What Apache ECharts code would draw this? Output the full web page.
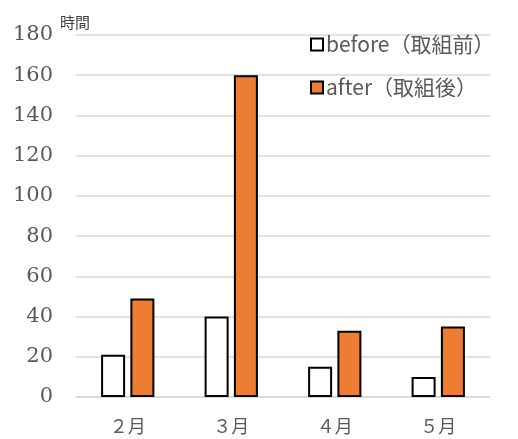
<!DOCTYPE html>
<html>
<head>
<meta charset="utf-8">
<script src="https://cdn.jsdelivr.net/npm/echarts@6/dist/echarts.min.js"></script>
<style>
  html, body { margin: 0; padding: 0; background: #fff; }
  #chart { width: 518px; height: 439px; }
</style>
</head>
<body>
<div id="chart"></div>
<script>
const months = ['２月', '３月', '４月', '５月']
const beforeHours = [21, 40, 15, 10]
const afterHours = [49, 160, 33, 35]

const chart = echarts.init(document.getElementById('chart'))

chart.setOption({
  animation: false,
  backgroundColor: '#fff',
  title: {
    text: '時間',
    left: 55,
    top: 10,
    textStyle: { color: '#404040', fontSize: 15, fontWeight: 'normal', fontFamily: 'Noto Sans CJK JP' }
  },
  legend: {
    orient: 'vertical',
    left: 305,
    top: 29,
    itemWidth: 12,
    itemHeight: 12,
    itemGap: 22,
    icon: 'rect',
    textStyle: { color: '#595959', fontSize: 21, fontFamily: 'Noto Sans CJK JP', padding: [0, 0, 0, -2] },
    data: ['before（取組前）', 'after（取組後）']
  },
  grid: { left: 76, right: 28, top: 35, bottom: 42 },
  xAxis: {
    type: 'category',
    data: months,
    axisLine: { show: true, lineStyle: { color: '#d9d9d9', width: 1.5 } },
    axisTick: { show: false },
    axisLabel: { color: '#595959', fontSize: 18, margin: 20, fontFamily: 'Noto Sans CJK JP' }
  },
  yAxis: {
    type: 'value',
    min: 0,
    max: 180,
    interval: 20,
    axisLine: { show: false },
    axisTick: { show: false },
    axisLabel: { color: '#595959', fontSize: 21, margin: 23, fontFamily: 'DejaVu Serif' },
    splitLine: { lineStyle: { color: '#d9d9d9', width: 1.5 } }
  },
  series: [
    {
      name: 'before（取組前）',
      type: 'bar',
      data: beforeHours,
      barWidth: 24,
      barGap: '22%',
      itemStyle: { color: '#ffffff', borderColor: '#000', borderWidth: 2 }
    },
    {
      name: 'after（取組後）',
      type: 'bar',
      data: afterHours,
      barWidth: 24,
      itemStyle: { color: '#ED7D31', borderColor: '#000', borderWidth: 2 }
    }
  ]
})
</script>
</body>
</html>
